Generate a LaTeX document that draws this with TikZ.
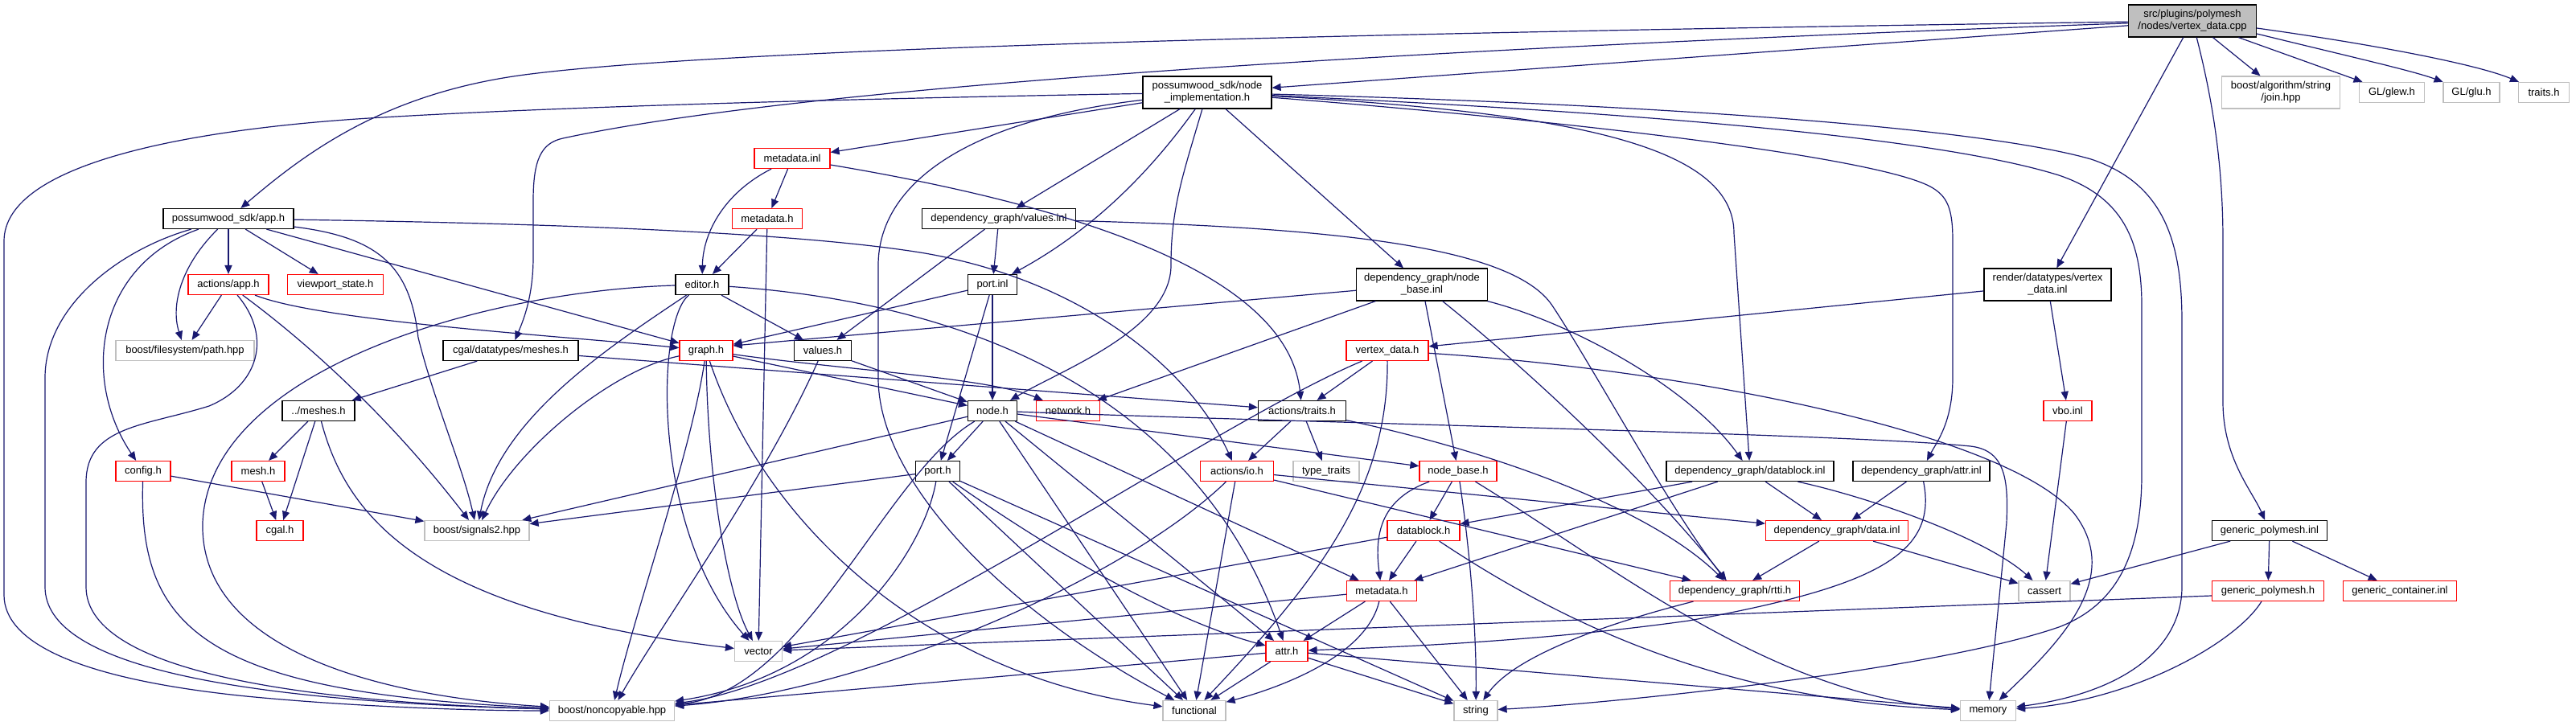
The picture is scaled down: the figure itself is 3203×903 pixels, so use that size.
\documentclass[tikz,border=0pt]{standalone}
\usepackage{fontspec}
\setmainfont{Liberation Sans}
\usetikzlibrary{arrows.meta}
\definecolor{edgec}{RGB}{25,25,112}
\definecolor{grayb}{RGB}{191,191,191}
\tikzset{
 nd/.style={rectangle, draw, inner sep=0pt, minimum height=12.5pt, line width=0.6pt, align=center, fill=white, font=\fontsize{6.5pt}{7.5pt}\selectfont},
 bbox/.style={nd, draw=black},
 rbox/.style={nd, draw=red},
 gbox/.style={nd, draw=grayb},
 tall/.style={minimum height=20pt},
 e/.style={draw=edgec, line width=0.6pt, -{Triangle[length=5.5pt,width=4.6pt]}},
}
\begin{document}
\begin{tikzpicture}[x=0.5pt,y=-0.5pt]
\fill[white] (0,0) rectangle (3203,903);
\useasboundingbox (0,0) rectangle (3203,903);
% nodes
\node[bbox, fill=grayb, tall, minimum width=79.5pt] (root) at (2726,26) {src/plugins/polymesh\\/nodes/vertex\_data.cpp};
\node[bbox, tall, minimum width=80pt] (ni) at (1501,115) {possumwood\_sdk/node\\\_implementation.h};
\node[gbox, tall, minimum width=73.5pt] (join) at (2836,115) {boost/algorithm/string\\/join.hpp};
\node[gbox, minimum width=40.5pt] (glew) at (2974,115) {GL/glew.h};
\node[gbox, minimum width=35pt] (glu) at (3073,115) {GL/glu.h};
\node[gbox, minimum width=31.5pt] (traitsh) at (3163,115) {traits.h};
\node[rbox, minimum width=47pt] (minl) at (985,197) {metadata.inl};
\node[bbox, minimum width=81pt] (app) at (284,272) {possumwood\_sdk/app.h};
\node[rbox, minimum width=43.5pt] (mh1) at (954,272) {metadata.h};
\node[bbox, minimum width=95.5pt] (vinl) at (1242,272) {dependency\_graph/values.inl};
\node[rbox, minimum width=50pt] (aapp) at (284,354) {actions/app.h};
\node[rbox, minimum width=59.5pt] (vps) at (417,354) {viewport\_state.h};
\node[bbox, minimum width=33pt] (editor) at (873,354) {editor.h};
\node[bbox, minimum width=30.5pt] (pinl) at (1234,354) {port.inl};
\node[bbox, tall, minimum width=81.5pt] (nbinl) at (1768,354) {dependency\_graph/node\\\_base.inl};
\node[bbox, tall, minimum width=79pt] (rvd) at (2546,354) {render/datatypes/vertex\\\_data.inl};
\node[gbox, minimum width=86pt] (path) at (230,436) {boost/filesystem/path.hpp};
\node[bbox, minimum width=84pt] (cgalm) at (635,436) {cgal/datatypes/meshes.h};
\node[rbox, minimum width=33pt] (graph) at (878,436) {graph.h};
\node[bbox, minimum width=35.5pt] (values) at (1023,436) {values.h};
\node[rbox, minimum width=51pt] (vd) at (1725,436) {vertex\_data.h};
\node[bbox, minimum width=45pt] (meshes) at (396,511) {../meshes.h};
\node[bbox, minimum width=30.5pt] (node) at (1234,511) {node.h};
\node[rbox, minimum width=39.5pt] (network) at (1328,511) {network.h};
\node[bbox, minimum width=54.5pt] (atraits) at (1619,511) {actions/traits.h};
\node[rbox, minimum width=30pt] (vbo) at (2571,511) {vbo.inl};
\node[rbox, minimum width=34pt] (config) at (178,586) {config.h};
\node[rbox, minimum width=33pt] (mesh) at (321,586) {mesh.h};
\node[bbox, minimum width=27.5pt] (port) at (1166,586) {port.h};
\node[rbox, minimum width=45.5pt] (io) at (1538,586) {actions/io.h};
\node[gbox, minimum width=41pt] (tt) at (1649,586) {type\_traits};
\node[rbox, minimum width=48pt] (nbh) at (1813,586) {node\_base.h};
\node[bbox, minimum width=104pt] (dbinl) at (2176,586) {dependency\_graph/datablock.inl};
\node[bbox, minimum width=85pt] (ainl) at (2389,586) {dependency\_graph/attr.inl};
\node[rbox, minimum width=29pt] (cgal) at (348,660) {cgal.h};
\node[gbox, minimum width=65pt] (sig) at (593,660) {boost/signals2.hpp};
\node[rbox, minimum width=45pt] (dbh) at (1770,660) {datablock.h};
\node[rbox, minimum width=88.5pt] (data) at (2284,660) {dependency\_graph/data.inl};
\node[bbox, minimum width=71.5pt] (gpi) at (2822,660) {generic\_polymesh.inl};
\node[rbox, minimum width=43.5pt] (mh2) at (1718,735) {metadata.h};
\node[rbox, minimum width=80.5pt] (rtti) at (2157,735) {dependency\_graph/rtti.h};
\node[gbox, minimum width=32pt] (cassert) at (2542,735) {cassert};
\node[rbox, minimum width=69.5pt] (gph) at (2820,735) {generic\_polymesh.h};
\node[rbox, minimum width=70.5pt] (gci) at (2984,735) {generic\_container.inl};
\node[gbox, minimum width=29.5pt] (vector) at (943,810) {vector};
\node[rbox, minimum width=26pt] (attr) at (1600,810) {attr.h};
\node[gbox, minimum width=77.5pt] (ncp) at (761,884) {boost/noncopyable.hpp};
\node[gbox, minimum width=39pt] (func) at (1485,884) {functional};
\node[gbox, minimum width=27pt] (string) at (1835,884) {string};
\node[gbox, minimum width=34.5pt] (memory) at (2472,884) {memory};
% root
\draw[e] (root) -- (ni);
\draw[e] (root) .. controls (1600,42) and (900,62) .. (660,92) .. controls (480,114) and (380,190) .. (app);
\draw[e] (root) .. controls (1550,68) and (950,118) .. (700,172) .. controls (672,178) and (663,200) .. (663,250) -- (663,320) .. controls (663,370) and (650,400) .. (cgalm);
\draw[e] (root) -- (rvd);
\draw[e] (root) .. controls (2750,120) and (2764,200) .. (2764,300) -- (2764,500) .. controls (2764,570) and (2800,610) .. (gpi);
\draw[e] (root) -- (join);
\draw[e] (root) -- (glew);
\draw[e] ([yshift=-8pt]root.east) .. controls (2920,70) and (3000,88) .. (glu);
\draw[e] ([yshift=-4.5pt]root.east) .. controls (2950,55) and (3080,80) .. (traitsh);
% node_implementation
\draw[e] (ni) .. controls (1100,122) and (700,132) .. (459,147) .. controls (250,160) and (5,200) .. (5,300) -- (5,740) .. controls (5,800) and (100,845) .. (306,866) .. controls (450,880) and (600,884) .. (ncp);
\draw[e] (ni) -- (minl);
\draw[e] (ni) .. controls (1200,150) and (1092,230) .. (1092,330) -- (1092,470) .. controls (1092,600) and (1250,760) .. (func);
\draw[e] (ni) -- (vinl);
\draw[e] (ni) .. controls (1440,200) and (1370,280) .. (pinl);
\draw[e] (ni) .. controls (1470,220) and (1456,260) .. (1456,330) .. controls (1456,410) and (1320,460) .. (node);
\draw[e] (ni) -- (nbinl);
\draw[e] (ni) .. controls (1950,140) and (2156,180) .. (2156,290) -- (dbinl);
\draw[e] (ni) .. controls (1950,150) and (2330,195) .. (2400,232) .. controls (2422,244) and (2428,260) .. (2428,300) -- (2428,470) .. controls (2428,525) and (2408,550) .. (ainl);
\draw[e] (ni) .. controls (2000,138) and (2400,168) .. (2560,218) .. controls (2640,245) and (2663,300) .. (2663,380) -- (2663,590) .. controls (2663,700) and (2625,755) .. (2560,780) .. controls (2400,835) and (2000,875) .. (string);
\draw[e] (ni) .. controls (2000,128) and (2450,155) .. (2600,198) .. controls (2690,228) and (2713,300) .. (2713,400) -- (2713,730) .. controls (2713,800) and (2650,860) .. (memory);
% app.h
\draw[e] (app) .. controls (150,310) and (56,380) .. (56,470) -- (56,730) .. controls (56,830) and (300,872) .. (ncp);
\draw[e] (app) .. controls (120,330) and (100,470) .. (config);
\draw[e] (app) .. controls (225,330) and (212,380) .. (path);
\draw[e] (app) -- (aapp);
\draw[e] (app) -- (vps);
\draw[e] (app) -- (graph);
\draw[e] (app) .. controls (700,278) and (1000,290) .. (1150,315) .. controls (1350,350) and (1480,460) .. (io);
\draw[e] (app) .. controls (470,295) and (510,330) .. (520,420) .. controls (540,500) and (575,580) .. (sig);
% actions/app.h
\draw[e] (aapp) -- (path);
\draw[e] (aapp) .. controls (340,420) and (320,480) .. (260,505) .. controls (180,530) and (107,530) .. (107,600) -- (107,730) .. controls (107,840) and (400,874) .. (ncp);
\draw[e] (aapp) .. controls (360,410) and (470,500) .. (sig);
\draw[e] (aapp) .. controls (400,400) and (700,418) .. (graph);
% cgal meshes
\draw[e] (cgalm) -- (meshes);
\draw[e] (cgalm) -- (atraits);
\draw[e] (meshes) -- (mesh);
\draw[e] (meshes) -- (cgal);
\draw[e] (meshes) .. controls (430,640) and (520,760) .. (vector);
\draw[e] (config) -- (sig);
\draw[e] (config) .. controls (172,780) and (250,862) .. (ncp);
\draw[e] (mesh) -- (cgal);
% metadata
\draw[e] (minl) -- (mh1);
\draw[e] (minl) .. controls (900,240) and (874,290) .. (editor);
\draw[e] (minl) .. controls (1300,250) and (1600,330) .. (atraits);
\draw[e] (mh1) -- (editor);
\draw[e] (mh1) -- (vector);
% values.inl
\draw[e] (vinl) -- (pinl);
\draw[e] (vinl) -- (values);
\draw[e] (vinl) .. controls (1650,283) and (1880,305) .. (1930,380) .. controls (1980,455) and (2080,640) .. (rtti);
% editor
\draw[e] (editor) .. controls (600,362) and (260,460) .. (252,650) .. controls (248,800) and (450,865) .. (ncp);
\draw[e] (editor) .. controls (760,430) and (620,520) .. (sig);
\draw[e] (editor) .. controls (815,400) and (810,660) .. (vector);
\draw[e] (editor) -- (values);
\draw[e] (editor) .. controls (1250,380) and (1500,520) .. (attr);
% port.inl
\draw[e] (pinl) -- (graph);
\draw[e] (pinl) -- (port);
\draw[e] (pinl) -- (node);
% node_base.inl
\draw[e] (nbinl) -- ([yshift=3pt]graph.east);
\draw[e] (nbinl) -- (network);
\draw[e] (nbinl) -- (nbh);
\draw[e] (nbinl) .. controls (1900,460) and (2050,600) .. (rtti);
\draw[e] (nbinl) .. controls (1950,400) and (2100,480) .. (dbinl);
% render vertex_data.inl
\draw[e] (rvd) -- (vd);
\draw[e] (rvd) -- (vbo);
% graph.h
\draw[e] (graph) .. controls (760,460) and (640,560) .. (sig);
\draw[e] (graph) .. controls (860,560) and (790,760) .. (ncp);
\draw[e] (graph) .. controls (880,600) and (905,740) .. (vector);
\draw[e] (graph) .. controls (950,650) and (1150,840) .. (func);
\draw[e] (graph) -- (node);
\draw[e] (graph) .. controls (1050,460) and (1230,470) .. (network);
% values.h
\draw[e] (values) -- (node);
\draw[e] (values) .. controls (950,600) and (820,780) .. (ncp);
% vertex_data.h
\draw[e] (vd) -- (atraits);
\draw[e] (vd) .. controls (1500,530) and (1050,850) .. (ncp);
\draw[e] (vd) .. controls (1726,600) and (1650,710) .. (func);
\draw[e] (vd) .. controls (2100,460) and (2500,540) .. (2580,640) .. controls (2640,720) and (2560,800) .. (memory);
% node.h
\draw[e] (node) -- (sig);
\draw[e] (node) .. controls (1100,590) and (1000,860) .. (ncp);
\draw[e] (node) -- (port);
\draw[e] (node) -- (func);
\draw[e] (node) -- (attr);
\draw[e] (node) -- (mh2);
\draw[e] (node) .. controls (1700,528) and (2300,540) .. (2450,555) .. controls (2495,560) and (2497,600) .. (2495,650) -- (memory);
\draw[e] (node) -- (nbh);
% port.h
\draw[e] (port) -- (sig);
\draw[e] (port) .. controls (1150,680) and (1050,840) .. (ncp);
\draw[e] (port) -- (func);
\draw[e] (port) .. controls (1300,680) and (1450,770) .. (attr);
\draw[e] (port) -- (string);
% actions/io.h
\draw[e] (io) -- (func);
\draw[e] (io) .. controls (1400,720) and (1080,860) .. (ncp);
\draw[e] (io) -- (data);
\draw[e] (io) -- (rtti);
% actions/traits.h
\draw[e] (atraits) -- (io);
\draw[e] (atraits) -- (tt);
\draw[e] (atraits) .. controls (1850,560) and (2050,630) .. (rtti);
% node_base.h
\draw[e] (nbh) -- (dbh);
\draw[e] (nbh) .. controls (1720,620) and (1708,660) .. (mh2);
\draw[e] (nbh) .. controls (1830,700) and (1836,800) .. (string);
\draw[e] (nbh) .. controls (2000,700) and (2200,865) .. (memory);
% datablock.inl
\draw[e] (dbinl) -- (dbh);
\draw[e] (dbinl) -- (mh2);
\draw[e] (dbinl) -- (data);
\draw[e] (dbinl) .. controls (2330,620) and (2470,670) .. (cassert);
% attr.inl
\draw[e] (ainl) -- (data);
\draw[e] (ainl) .. controls (2410,690) and (2330,730) .. (2100,772) .. controls (1900,800) and (1700,806) .. (attr);
% datablock.h
\draw[e] (dbh) -- (mh2);
\draw[e] (dbh) -- (vector);
\draw[e] (dbh) .. controls (1950,780) and (2150,872) .. (memory);
% data.inl
\draw[e] (data) -- (rtti);
\draw[e] (data) -- (cassert);
% metadata.h (2)
\draw[e] (mh2) -- (vector);
\draw[e] (mh2) -- (attr);
\draw[e] (mh2) .. controls (1700,810) and (1610,850) .. (func);
\draw[e] (mh2) -- (string);
% rtti
\draw[e] (rtti) .. controls (1980,780) and (1880,820) .. (string);
% vbo, generic polymesh
\draw[e] (vbo) -- (cassert);
\draw[e] (gpi) -- (cassert);
\draw[e] (gpi) -- (gph);
\draw[e] (gpi) -- (gci);
\draw[e] ([yshift=-3pt]gph.west) -- (vector);
\draw[e] (gph) .. controls (2780,800) and (2650,872) .. (memory);
% attr.h
\draw[e] (attr) -- (ncp);
\draw[e] (attr) -- (func);
\draw[e] (attr) -- (string);
\draw[e] (attr) -- (memory);
\end{tikzpicture}
\end{document}
